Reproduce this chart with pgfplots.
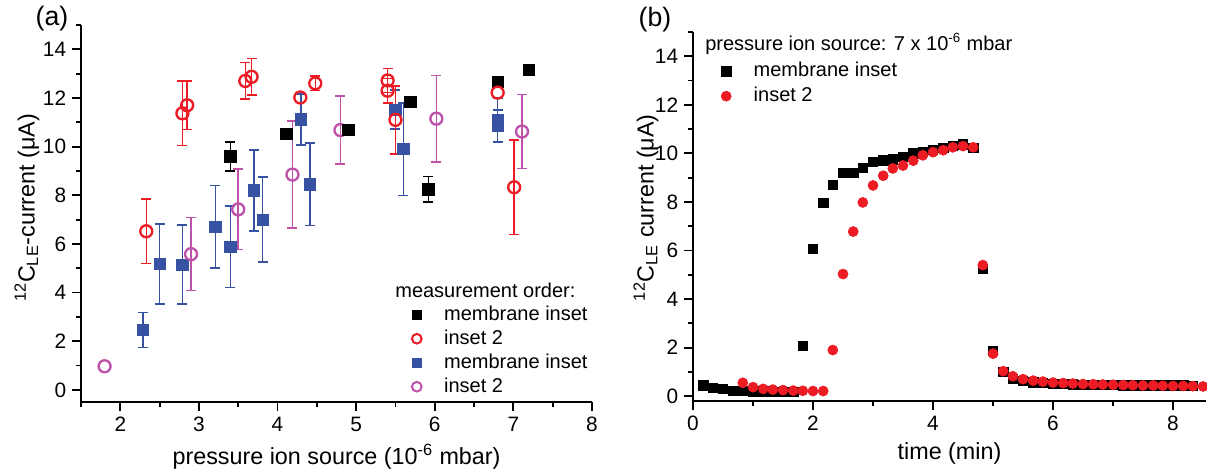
\documentclass[border=0pt]{standalone}
\usepackage{pgfplots}
\pgfplotsset{compat=1.18}
\usepackage{fontspec}
\setmainfont{Liberation Sans}
\definecolor{cred}{RGB}{237,28,36}
\definecolor{cblue}{RGB}{55,82,163}
\definecolor{cmag}{RGB}{190,82,170}
\pgfplotsset{
  myax/.style={
    scale only axis, clip=false,
    axis x line*=bottom, axis y line*=left,
    axis line style={line width=1.1pt,-},
    tick align=outside,
    major tick length=5.4pt, minor tick length=3pt,
    every tick/.style={line width=1.1pt,black},
    tick label style={font=\fontsize{12.5}{15}\selectfont},
    /pgf/number format/assume math mode=true,
    legend style={draw=none, fill=none, inner sep=0pt, outer sep=0pt,
      font=\fontsize{12}{14}\selectfont, row sep=0.9pt, column sep=12.5pt,
      nodes={inner sep=1pt, text height=9pt, text depth=2.5pt},
      cells={anchor=west}},
    legend cell align=left,
  },
  ebar/.style={error bars/.cd, y dir=both, y explicit,
    error bar style={line width=0.9pt,#1},
    error mark options={rotate=90,mark size=3pt,line width=0.9pt,#1}},
}
\begin{document}
\begin{tikzpicture}
\path[use as bounding box] (0,0) rectangle (724.2pt,-285pt);
% ---------------- panel (a)
\begin{axis}[myax,
  at={(48.6pt,-241.2pt)}, anchor=south west,
  width=306.6pt, height=226.2pt,
  xmin=1.5, xmax=8, ymin=-0.5, ymax=15,
  xtick={2,...,8}, minor xtick={1.5,2.5,...,7.5},
  ytick={0,2,...,14}, minor ytick={1,3,...,15},
  every axis x label/.style={at={(axis description cs:0.5,0)}, yshift=-33pt, anchor=center, font=\fontsize{14}{17}\selectfont},
  every axis y label/.style={at={(axis description cs:-0.1057,0.515)}, rotate=90, anchor=center, font=\fontsize{14}{17}\selectfont},
  xlabel={pressure ion source (10\textsuperscript{-6} mbar)},
  ylabel={\textsuperscript{12}C\textsubscript{LE}-current (μA)},
  legend style={at={(axis cs:5.71,3.55)}, anchor=north west},
]
\addlegendimage{only marks, mark=square*, mark size=2.7pt, black}
\addlegendentry{membrane inset}
\addlegendimage{only marks, mark=o, mark size=2.9pt, line width=1.2pt, cred}
\addlegendentry{inset 2}
\addlegendimage{only marks, mark=square*, mark size=2.7pt, cblue}
\addlegendentry{membrane inset}
\addlegendimage{only marks, mark=o, mark size=2.9pt, line width=1.2pt, cmag}
\addlegendentry{inset 2}
% blue squares
\addplot[forget plot, only marks, mark=square*, mark size=3.4pt, color=cblue, ebar=cblue]
 table[x=x,y=y,y error=e]{
x y e
2.29 2.47 0.72
2.50 5.17 1.65
2.79 5.15 1.63
3.21 6.70 1.70
3.40 5.88 1.67
3.70 8.20 1.67
3.81 7.00 1.75
4.30 11.12 1.05
4.41 8.45 1.70
5.50 11.52 0.80
5.60 9.90 1.90
6.80 11.10 0.90
6.80 10.85 0.65
};
% magenta circles
\addplot[forget plot, only marks, mark=o, mark size=3.6pt, line width=1.4pt, color=cmag, ebar=cmag]
 table[x=x,y=y,y error=e]{
x y e
2.90 5.58 1.50
3.50 7.42 1.65
4.19 8.85 2.20
4.80 10.68 1.40
6.02 11.15 1.78
7.11 10.62 1.52
};
\addplot[forget plot, only marks, mark=o, mark size=3.6pt, line width=1.4pt, color=cmag]
 coordinates {(1.80,0.97)};
% black squares
\addplot[forget plot, only marks, mark=square*, mark size=3.4pt, color=black, ebar=black]
 table[x=x,y=y,y error=e]{
x y e
3.40 9.60 0.60
5.92 8.25 0.53
};
\addplot[forget plot, only marks, mark=square*, mark size=3.4pt, color=black]
 table[x=x,y=y]{
x y
4.11 10.52
4.90 10.70
5.69 11.85
6.80 12.66
7.20 13.15
};
% red circles
\addplot[forget plot, only marks, mark=o, mark size=3.6pt, line width=1.4pt, color=cred, ebar=cred]
 table[x=x,y=y,y error=e]{
x y e
2.33 6.52 1.32
2.79 11.37 1.33
2.85 11.70 1.00
3.59 12.70 0.75
3.67 12.87 0.75
4.48 12.60 0.30
5.40 12.72 0.50
5.40 12.30 0.50
5.50 11.10 1.40
7.01 8.33 1.95
};
\addplot[forget plot, only marks, mark=o, mark size=3.6pt, line width=1.4pt, color=cred]
 table[x=x,y=y]{
x y
4.29 12.02
6.80 12.22
};
\end{axis}
% ---------------- panel (b)
\begin{axis}[myax,
  at={(415.8pt,-240.6pt)}, anchor=south west,
  width=307.8pt, height=221.4pt,
  xmin=0, xmax=8.55, ymin=-0.2, ymax=15,
  xtick={0,2,...,8}, minor xtick={1,3,...,7},
  ytick={0,2,...,14}, minor ytick={1,3,...,15},
  every axis x label/.style={at={(axis description cs:0.5,0)}, yshift=-31.2pt, anchor=center, font=\fontsize{14}{17}\selectfont},
  every axis y label/.style={at={(axis description cs:-0.0916,0.524)}, rotate=90, anchor=center, font=\fontsize{14}{17}\selectfont},
  xlabel={time (min)},
  ylabel={\textsuperscript{12}C\textsubscript{LE} current (μA)},
  legend style={at={(axis cs:0.47,13.85)}, anchor=north west, row sep=1.5pt},
]
\addlegendimage{only marks, mark=square*, mark size=2.8pt, black}
\addlegendentry{membrane inset}
\addlegendimage{only marks, mark=*, mark size=3pt, cred}
\addlegendentry{inset 2}
\addplot[forget plot, only marks, mark=square*, mark size=2.8pt, color=black]
 table[x=x,y=y]{
x y
0.17 0.45
0.33 0.33
0.50 0.29
0.67 0.22
0.83 0.22
1.00 0.20
1.17 0.20
1.33 0.19
1.50 0.19
1.67 0.18
1.83 2.06
2.00 6.07
2.17 7.95
2.33 8.70
2.50 9.20
2.67 9.20
2.83 9.40
3.00 9.65
3.17 9.72
3.33 9.75
3.50 9.85
3.67 10.00
3.83 10.07
4.00 10.15
4.17 10.22
4.33 10.30
4.50 10.37
4.67 10.22
4.83 5.25
5.00 1.88
5.17 1.00
5.33 0.72
5.50 0.62
5.67 0.57
5.83 0.54
6.00 0.52
6.17 0.50
6.33 0.49
6.50 0.48
6.67 0.47
6.83 0.46
7.00 0.46
7.17 0.45
7.33 0.45
7.50 0.44
7.67 0.44
7.83 0.44
8.00 0.44
8.17 0.45
8.33 0.43
};
\addplot[forget plot, only marks, mark=*, mark size=3pt, color=cred]
 table[x=x,y=y]{
x y
0.83 0.55
1.00 0.37
1.17 0.30
1.33 0.27
1.50 0.25
1.67 0.23
1.83 0.22
2.00 0.21
2.17 0.21
2.33 1.90
2.50 5.03
2.67 6.78
2.83 7.98
3.00 8.68
3.17 9.08
3.33 9.38
3.50 9.50
3.67 9.70
3.83 9.92
4.00 10.05
4.17 10.13
4.33 10.25
4.50 10.30
4.67 10.25
4.83 5.40
5.00 1.75
5.17 1.03
5.33 0.82
5.50 0.70
5.67 0.64
5.83 0.60
6.00 0.56
6.17 0.54
6.33 0.52
6.50 0.50
6.67 0.49
6.83 0.48
7.00 0.47
7.17 0.46
7.33 0.45
7.50 0.44
7.67 0.44
7.83 0.43
8.00 0.42
8.17 0.42
8.33 0.41
8.50 0.40
};
\end{axis}
% titles and panel labels
\node[anchor=base west, inner sep=0pt, font=\fontsize{12}{14}\selectfont] at (237pt,-178.2pt) {measurement order:};
\node[anchor=base west, inner sep=0pt, font=\fontsize{12}{14}\selectfont] at (423pt,-30pt) {pressure ion source: 7 x 10\textsuperscript{-6} mbar};
\node[anchor=center, inner sep=0pt, font=\fontsize{16}{19}\selectfont] at (31.2pt,-11.4pt) {(a)};
\node[anchor=center, inner sep=0pt, font=\fontsize{16}{19}\selectfont] at (393pt,-12pt) {(b)};
\end{tikzpicture}
\end{document}
